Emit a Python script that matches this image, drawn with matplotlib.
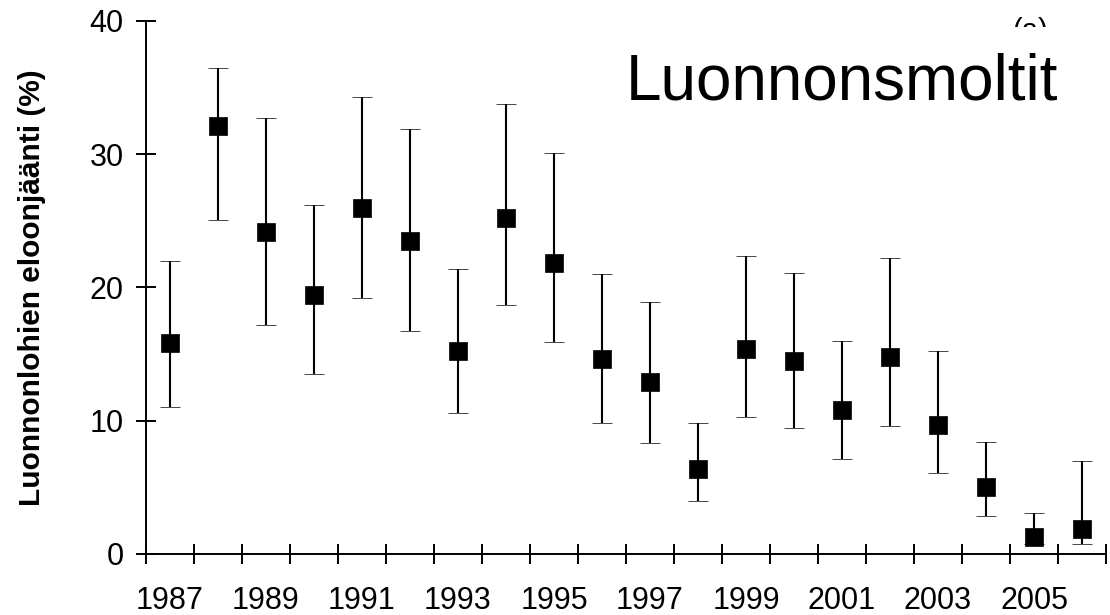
import numpy as np
import matplotlib
matplotlib.use("Agg")
import matplotlib.pyplot as plt
from matplotlib.transforms import Bbox

plt.rcParams["font.family"] = ["Liberation Sans", "DejaVu Sans"]

# Data
years = [1987, 1988, 1989, 1990, 1991, 1992, 1993, 1994, 1995, 1996,
         1997, 1998, 1999, 2000, 2001, 2002, 2003, 2004, 2005, 2006]
survival = [15.8, 32.1, 24.2, 19.4, 26.0, 23.5, 15.2, 25.2, 21.8, 14.6,
            12.9, 6.4, 15.4, 14.5, 10.8, 14.8, 9.7, 5.0, 1.3, 1.9]
upper = [22.0, 36.5, 32.7, 26.2, 34.3, 31.9, 21.4, 33.8, 30.1, 21.0,
         18.9, 9.8, 22.4, 21.1, 16.0, 22.2, 15.2, 8.4, 3.05, 7.0]
lower = [11.0, 25.1, 17.2, 13.5, 19.2, 16.7, 10.6, 18.7, 15.9, 9.85,
         8.3, 4.0, 10.3, 9.45, 7.15, 9.6, 6.1, 2.85, 0.75, 0.75]
yticks = [0, 10, 20, 30, 40]

x = np.arange(len(years))
vals = np.array(survival)
yerr = [vals - np.array(lower), np.array(upper) - vals]

fig = plt.figure(figsize=(11.1, 6.15), dpi=100)
ax = fig.add_axes([0.1315, 0.0992, 0.8649, 0.8667])

ax.errorbar(
    x, vals, yerr=yerr,
    fmt="s", color="black",
    markersize=13, markeredgewidth=0.5,
    elinewidth=1.5, capsize=7.5, capthick=2.6,
    clip_on=False, zorder=3
)

ax.set_xlim(-0.5, len(years) - 0.5)
ax.set_ylim(0, 40)

# Category axis: ticks between years, labels on every other year
ax.set_xticks(np.arange(-0.5, len(years)))
ax.set_xticklabels([])
ax.set_xticks(x[::2], minor=True)
ax.set_xticklabels([str(y) for y in years[::2]], minor=True)
ax.tick_params(axis="x", which="major", direction="inout", length=14, width=1.4)
ax.tick_params(axis="x", which="minor", length=0, pad=23, labelsize=22)

ax.set_yticks(yticks)
ax.tick_params(axis="y", direction="inout", length=14, width=1.4,
               pad=9, labelsize=22)

for side in ["top", "right"]:
    ax.spines[side].set_visible(False)
for side in ["left", "bottom"]:
    ax.spines[side].set_linewidth(1.4)

ax.set_ylabel("Luonnonlohien eloonjäänti (%)", fontsize=21.5,
              fontweight="bold")
ax.yaxis.set_label_coords(-0.104, 0.5)

# Panel letter, only its top part shows above the title
letter = fig.text(0.928, 0.937, "(a)", fontsize=21, ha="center", va="baseline")
letter.set_clip_box(Bbox.from_extents(0, 615 - 27, 1110, 615))
letter.set_clip_on(True)

fig.text(0.953, 0.839, "Luonnonsmoltit", fontsize=46, ha="right",
         va="baseline", zorder=5)

plt.savefig("out.png", dpi=100)
